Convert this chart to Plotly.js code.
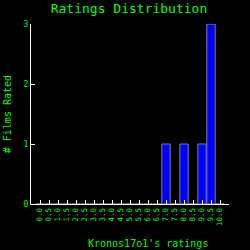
<!DOCTYPE html>
<html><head><meta charset="utf-8">
<script src="https://cdn.plot.ly/plotly-3.0.1.min.js"></script>
<style>html,body{margin:0;padding:0;background:#000;}#c{width:250px;height:250px;}</style>
</head><body><div id="c"></div>
<script>
const categories = ["0.0","0.5","1.0","1.5","2.0","2.5","3.0","3.5","4.0","4.5","5.0","5.5","6.0","6.5","7.0","7.5","8.0","8.5","9.0","9.5","10.0"];
const counts =     [0,0,0,0,0,0,0,0,0,0,0,0,0,0,1,0,1,0,1,3,0];
const yTicks = [0,1,2,3];
const green = '#00ff00';
const mono = 'DejaVu Sans Mono, monospace';

Plotly.newPlot('c', [{
  type: 'bar', x: categories, y: counts,
  marker: {color: '#0000ff', line: {color: '#808080', width: 1}},
  hoverinfo: 'none'
}], {
  width: 250, height: 250,
  paper_bgcolor: '#000', plot_bgcolor: '#000',
  margin: {l: 31, r: 21, t: 24, b: 46},
  bargap: 0.07,
  showlegend: false,
  title: {text: 'Ratings Distribution', font: {family: mono, size: 13, color: green}, x: 0.516, xanchor: 'center', y: 0.966, yanchor: 'middle'},
  xaxis: {type: 'category', range: [-1, 21], showline: true, linecolor: '#fff', linewidth: 1,
    tickmode: 'array', tickvals: categories, ticktext: categories,
    ticks: 'inside', ticklen: 4, tickcolor: '#fff', tickangle: -90,
    tickfont: {family: mono, size: 7.5, color: green}, showgrid: false, zeroline: false, fixedrange: true},
  yaxis: {range: [0, 3], tickvals: yTicks, showline: true, linecolor: '#fff', linewidth: 1,
    ticks: 'inside', ticklen: 4, tickcolor: '#fff',
    tickfont: {family: mono, size: 8, color: green}, showgrid: false, zeroline: false, fixedrange: true},
  annotations: [
    {text: "Kronos17o1's ratings", xref: 'paper', yref: 'paper', x: 0.59, y: -0.217, xanchor: 'center', yanchor: 'middle', showarrow: false, font: {family: mono, size: 10, color: green}},
    {text: '# Films Rated', xref: 'paper', yref: 'paper', x: -0.12, y: 0.5, xanchor: 'center', yanchor: 'middle', textangle: -90, showarrow: false, font: {family: mono, size: 10, color: green}}
  ]
}, {staticPlot: true});
</script></body></html>
